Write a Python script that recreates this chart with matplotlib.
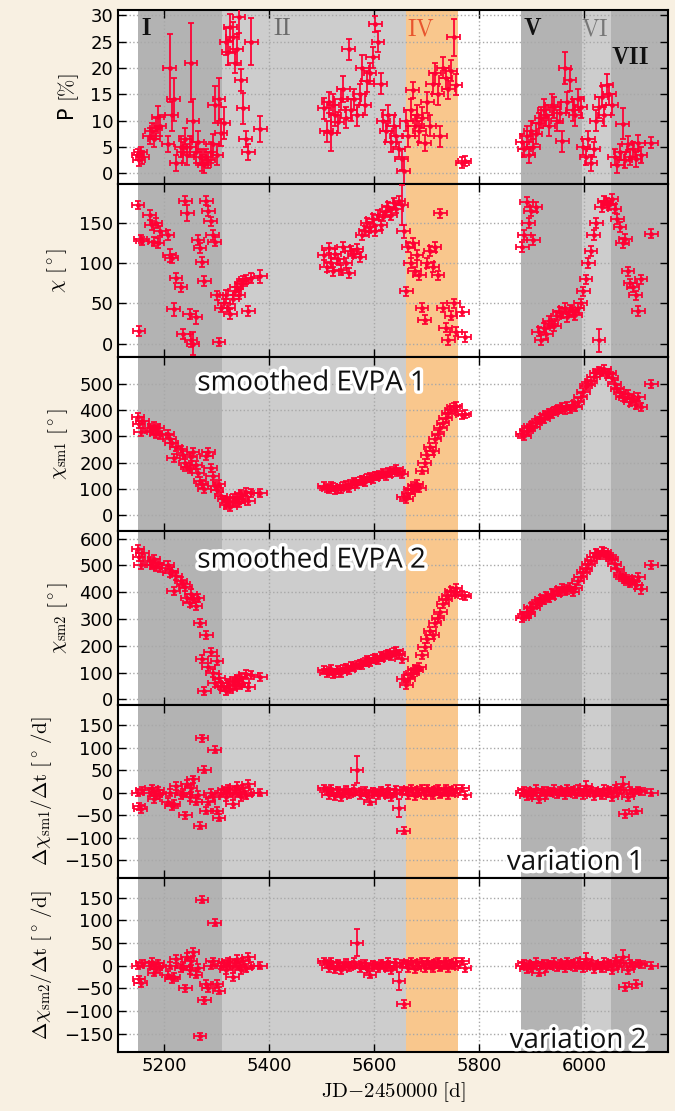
import numpy as np
import matplotlib.pyplot as plt
import matplotlib.patheffects as pe

plt.rcParams['mathtext.fontset'] = 'cm'
plt.rcParams['font.family'] = ['DejaVu Sans']

# observation epochs, JD - 2450000
jd = [5150, 5152, 5155, 5158, 5172, 5176, 5180, 5184, 5188, 5192, 5207, 5210,
      5214, 5218, 5222, 5232, 5236, 5240, 5244, 5248, 5251, 5255, 5260, 5264,
      5268, 5272, 5276, 5280, 5284, 5288, 5292, 5296, 5300, 5304, 5308,
      5314, 5318, 5322, 5326, 5330, 5334, 5338, 5342, 5346, 5350, 5355, 5360, 5366, 5383,
      5505, 5509, 5513, 5517, 5521, 5525, 5530, 5536, 5541, 5546, 5551, 5556,
      5562, 5567, 5572, 5577, 5582, 5587, 5592, 5597, 5602, 5607, 5612, 5617,
      5622, 5627, 5632, 5637, 5642, 5647, 5652, 5656,
      5661, 5665, 5669, 5673, 5677, 5681, 5686, 5691, 5696, 5701, 5706, 5711,
      5716, 5721, 5726, 5731, 5736, 5741, 5746, 5751, 5756, 5768, 5772,
      5882, 5886, 5890, 5894, 5898, 5903, 5908, 5913,
      5918, 5923, 5928, 5933, 5938, 5943, 5948, 5953,
      5958, 5963, 5968, 5973, 5978, 5983, 5988, 5993,
      5998, 6003, 6008, 6013, 6018, 6023, 6028, 6033,
      6038, 6043, 6048, 6053, 6058, 6063, 6068, 6073,
      6078, 6083, 6088, 6093, 6098, 6103, 6108, 6128]
jd_err = 12

# polarization degree [%]
pol = [3.5, 2.5, 4.0, 3.0, 7.0, 8.0, 6.5, 8.5, 10.6, 9.0, 5.5, 20.0,
       11.0, 14.0, 2.0, 5.0, 4.0, 6.5, 3.5, 5.0, 21.0, 10.0, 4.0, 6.0,
       3.0, 2.0, 1.5, 3.0, 2.5, 4.0, 5.5, 13.0, 3.5, 14.0, 7.7,
       9.5, 25.0, 23.0, 27.7, 25.8, 21.0, 23.5, 29.7, 17.7, 12.3, 6.5, 4.0, 25.0, 8.4,
       12.3, 8.0, 13.5, 7.7, 13.0, 11.0, 9.7, 14.0, 16.0, 10.5, 23.5, 12.0,
       14.0, 11.0, 15.0, 20.0, 13.0, 17.5, 19.0, 22.0, 28.4, 25.0, 17.0, 10.0,
       8.0, 11.0, 6.0, 9.0, 7.0, 4.5, 2.6, 0.5,
       10.0, 7.0, 12.0, 15.8, 9.0, 11.0, 8.0, 10.5, 5.8, 13.5, 9.0, 17.0,
       19.0, 15.0, 7.0, 20.0, 18.0, 16.0, 19.5, 25.8, 16.8, 2.0, 2.3,
       6.0, 4.5, 7.0, 3.5, 8.0, 5.0, 7.5, 9.5,
       10.5, 12.0, 11.0, 9.0, 13.0, 12.5, 10.0, 11.5,
       6.1, 20.0, 13.5, 17.7, 12.0, 11.0, 14.0, 12.5,
       5.0, 3.0, 6.5, 2.0, 4.5, 10.0, 12.5, 14.5,
       11.0, 16.8, 15.0, 13.0, 3.0, 1.5, 4.0, 9.4,
       2.5, 5.5, 3.0, 4.5, 2.6, 5.8, 3.5, 5.8]
pol_err = [1.0, 1.2, 1.0, 1.2, 1.5, 1.5, 1.5, 2.0, 2.2, 2.0, 1.5, 6.5,
           3.0, 4.0, 1.5, 2.0, 2.0, 2.0, 2.0, 2.0, 7.5, 4.0, 2.0, 2.0,
           1.5, 1.5, 1.5, 1.5, 1.5, 2.0, 2.0, 3.5, 2.0, 4.0, 2.5,
           3.0, 2.5, 2.5, 2.5, 3.0, 2.0, 3.0, 3.0, 2.0, 3.0, 1.5, 1.5, 4.5, 2.5,
           2.0, 2.0, 2.0, 3.5, 2.0, 2.0, 2.0, 2.0, 2.5, 2.0, 2.0, 2.0,
           2.0, 2.0, 2.0, 2.5, 2.0, 2.0, 2.0, 2.0, 1.5, 2.0, 2.0, 2.0,
           2.0, 2.0, 2.0, 2.0, 2.0, 1.5, 2.0, 2.5,
           2.0, 2.0, 2.0, 1.5, 2.0, 2.0, 2.0, 2.0, 1.5, 2.0, 2.0, 2.0,
           2.0, 2.0, 2.0, 2.0, 2.0, 2.0, 2.0, 3.5, 2.0, 1.0, 1.0,
           1.5, 1.5, 2.0, 1.5, 2.0, 1.5, 2.0, 2.0,
           2.0, 2.0, 2.0, 2.0, 2.0, 2.0, 2.0, 2.0,
           2.0, 3.0, 2.0, 2.0, 2.0, 2.0, 2.0, 2.0,
           1.5, 1.5, 1.5, 1.5, 1.5, 2.0, 2.0, 2.0,
           2.0, 2.0, 2.0, 2.0, 1.5, 1.5, 1.5, 3.0,
           1.5, 1.5, 1.5, 1.5, 1.5, 1.5, 1.5, 1.0]

# EVPA [deg]
chi = [172, 16, 130, 128, 160, 147, 127, 150, 125, 140, 135, 110,
       106, 43, 82, 70, 12, 178, 162, 37, 4, 0, 33, 129,
       119, 102, 78, 178, 165, 152, 135, 127, 60, 2, 45,
       50, 61, 45, 37, 55, 65, 70, 61, 74, 78, 80, 41, 82, 84,
       110, 95, 119, 100, 90, 112, 105, 92, 120, 100, 88, 115,
       112, 118, 108, 135, 140, 150, 145, 155, 140, 160, 148, 158,
       165, 170, 160, 175, 168, 178, 172, 140,
       65, 120, 100, 125, 90, 110, 85, 45, 30, 100, 115, 95,
       120, 85, 162, 45, 20, 5, 35, 50, 15, 40, 8,
       120, 135, 176, 150, 165, 129, 170, 15,
       5, 20, 12, 28, 25, 22, 35, 40,
       38, 45, 33, 42, 40, 36, 44, 50,
       65, 80, 100, 115, 135, 150, 4, 170,
       178, 175, 172, 180, 168, 155, 145, 125,
       130, 90, 75, 70, 60, 41, 80, 137]
chi_err = [5, 6, 5, 5, 6, 6, 6, 6, 6, 6, 6, 8,
           6, 8, 6, 6, 6, 6, 10, 6, 8, 14, 8, 6,
           6, 6, 6, 6, 6, 6, 6, 6, 6, 5, 6,
           6, 6, 6, 6, 6, 6, 6, 6, 6, 6, 6, 6, 6, 8,
           6, 6, 6, 6, 6, 6, 6, 6, 6, 6, 6, 6,
           6, 6, 6, 6, 6, 6, 6, 6, 6, 6, 6, 6,
           6, 6, 6, 6, 6, 6, 25, 8,
           6, 6, 6, 6, 6, 6, 6, 6, 6, 6, 6, 6,
           6, 6, 6, 6, 6, 6, 6, 6, 6, 6, 6,
           6, 6, 6, 6, 6, 6, 6, 6,
           6, 6, 6, 6, 6, 6, 6, 6,
           6, 6, 6, 6, 6, 6, 6, 6,
           6, 6, 6, 6, 6, 6, 14, 6,
           6, 6, 6, 6, 6, 6, 6, 6,
           6, 6, 6, 6, 6, 6, 6, 6]

# smoothed EVPA, two ambiguity solutions [deg]
chi_sm1 = [375, 345, 315, 360, 330, 320, 340, 310, 330, 305, 310, 290,
           275, 218, 260, 250, 230, 200, 185, 175, 220, 240, 190, 160,
           130, 120, 100, 225, 240, 180, 150, 110, 95, 120, 75,
           60, 40, 55, 30, 65, 50, 70, 45, 80, 60, 90, 55, 85, 85,
           110, 105, 100, 112, 108, 95, 100, 98, 110, 115, 105, 120,
           125, 118, 130, 135, 128, 140, 145, 138, 150, 148, 155, 160,
           150, 165, 160, 170, 175, 165, 155, 70,
           60, 80, 100, 95, 110, 120, 105, 170, 200, 230, 260, 245,
           290, 310, 330, 350, 370, 390, 400, 410, 415, 380, 385,
           310, 300, 320, 330, 340, 335, 350, 360,
           370, 365, 380, 390, 385, 395, 400, 405,
           410, 400, 415, 405, 420, 410, 430, 450,
           470, 490, 500, 510, 525, 540, 550, 545,
           555, 535, 540, 520, 500, 480, 470, 450,
           445, 460, 430, 440, 420, 450, 410, 500]
chi_sm2 = [560, 530, 500, 545, 515, 500, 525, 495, 510, 490, 500, 470,
           480, 405, 460, 440, 430, 420, 380, 360, 395, 375, 350, 380,
           284, 150, 30, 241, 120, 175, 100, 60, 145, 80, 50,
           45, 30, 60, 40, 70, 50, 75, 55, 85, 60, 95, 45, 90, 85,
           110, 100, 105, 115, 95, 100, 108, 100, 112, 118, 108, 125,
           120, 128, 132, 130, 138, 145, 140, 150, 155, 148, 160, 158,
           165, 170, 162, 175, 180, 168, 150, 75,
           55, 75, 95, 100, 115, 110, 120, 165, 195, 225, 255, 240,
           285, 305, 325, 355, 375, 385, 405, 400, 415, 390, 385,
           305, 310, 325, 320, 345, 340, 355, 365,
           375, 370, 385, 380, 395, 390, 405, 400,
           415, 405, 410, 420, 400, 415, 440, 455,
           475, 485, 505, 515, 530, 545, 540, 555,
           550, 540, 530, 525, 505, 485, 465, 455,
           450, 440, 435, 445, 425, 455, 410, 500]
chi_sm_err = 15

# rate of EVPA change [deg/d]
dchi1 = [0, -30, -36, 5, 0, 10, -15, -5, 5, -2, -20, 0,
         -30, -25, 15, -5, 0, -50, 20, -10, 10, 30, -20, -5,
         -73, 121, 51, -40, -20, 0, -10, 95, -40, -55, 0,
         5, -10, 10, 0, -25, 5, 15, 0, -10, 10, -5, 20, 0, 0,
         10, 5, -5, 8, 0, -8, 5, -10, 0, 6, -3, 0,
         8, 51, -5, 0, 5, -8, -20, 3, 0, -6, 5, 0,
         -4, 8, -10, 0, 6, -33, 5, -84,
         5, -5, 10, 0, -8, 5, 0, 8, -5, 10, 0, -6,
         5, 8, -3, 0, 10, -5, 5, 0, 8, 10, -5,
         0, 5, -8, 3, -5, 0, 8, -15,
         0, 5, -5, 3, 0, 8, -3, 5,
         0, -5, 10, 0, 5, -3, 8, 0,
         -5, 15, 0, 5, -8, 3, 0, -5,
         8, 0, 5, -10, 10, 0, 5, 20,
         -47, -10, 5, 0, -40, 5, 3, 0]
dchi2 = [0, -30, -38, 5, 0, 8, -15, -5, 5, -2, -20, 0,
         -30, -25, 15, -5, 0, -50, 20, -10, 10, 30, -20, -5,
         -155, 145, -76, -40, -50, 0, 10, 95, -40, -55, 0,
         5, -10, 10, 0, -25, 5, 15, 0, -10, 10, -5, 20, 0, 0,
         10, 5, -5, 8, 0, -8, 5, -10, 0, 6, -3, 0,
         8, 51, -5, 0, 5, -8, -20, 3, 0, -6, 5, 0,
         -4, 8, -10, 0, 6, -33, 5, -84,
         5, -5, 10, 0, -8, 5, 0, 8, -5, 10, 0, -6,
         5, 8, -3, 0, 10, -5, 5, 0, 8, 10, -5,
         0, 5, -8, 3, -5, 0, 8, -15,
         0, 5, -5, 3, 0, 8, -3, 5,
         0, -5, 10, 0, 5, -3, 8, 0,
         -5, 15, 0, 5, -8, 3, 0, -5,
         8, 0, 5, -10, 10, 0, 5, 20,
         -47, -10, 5, 0, -40, 5, 3, 0]
dchi_err = [8] * 35 + [8] * 14 + \
    [8, 8, 8, 8, 8, 8, 8, 8, 8, 8, 8, 8,
     8, 30, 8, 8, 8, 8, 8, 8, 8, 8, 8, 8,
     8, 8, 8, 8, 8, 20, 8, 8] + [8] * 23 + \
    [8] * 25 + [12] + [8] * 13 + [15] + [8] * 8

# activity periods: start, end, shade
periods = [(5150, 5310, '#b3b3b3'), (5310, 5660, '#cdcdcd'),
           (5660, 5760, '#f9c78d'), (5880, 5995, '#b3b3b3'),
           (5995, 6050, '#cdcdcd'), (6050, 6165, '#b3b3b3')]
period_names = ['I', 'II', 'IV', 'V', 'VI', 'VII']
period_x = [5166, 5424, 5688, 5902, 6021, 6088]
period_y = [27.5, 27.5, 27.5, 27.5, 27.5, 22.0]

red = '#ff0033'

fig, axes = plt.subplots(6, 1, sharex=True, figsize=(6.75, 11.11), dpi=100)
fig.patch.set_facecolor('#f8f0e2')
fig.subplots_adjust(left=0.175, right=0.99, top=0.991, bottom=0.053, hspace=0)

panels = [(pol, pol_err, (-2, 31), [0, 5, 10, 15, 20, 25, 30], r'P $[\%]$'),
          (chi, chi_err, (-17, 199), [0, 50, 100, 150], r'$\chi\ [^\circ]$'),
          (chi_sm1, chi_sm_err, (-60, 600), [0, 100, 200, 300, 400, 500],
           r'$\chi_{\rm sm1}\ [^\circ]$'),
          (chi_sm2, chi_sm_err, (-20, 628), [0, 100, 200, 300, 400, 500, 600],
           r'$\chi_{\rm sm2}\ [^\circ]$'),
          (dchi1, dchi_err, (-190, 195), [-150, -100, -50, 0, 50, 100, 150],
           r'$\Delta\chi_{\rm sm1}/\Delta{\rm t}\ [^\circ\,/{\rm d}]$'),
          (dchi2, dchi_err, (-190, 192), [-150, -100, -50, 0, 50, 100, 150],
           r'$\Delta\chi_{\rm sm2}/\Delta{\rm t}\ [^\circ\,/{\rm d}]$')]

for ax, (vals, err, ylim, yticks, ylabel) in zip(axes, panels):
    for x0, x1, c in periods:
        ax.axvspan(x0, x1, color=c, lw=0, zorder=0)
    ax.errorbar(jd, vals, xerr=jd_err, yerr=err, fmt='o', ms=2.5, color=red,
                ecolor=red, elinewidth=1.4, capsize=2.5, capthick=1.4, alpha=0.9,
                zorder=3)
    ax.set_ylim(*ylim)
    ax.set_yticks(yticks)
    ax.set_ylabel(ylabel, fontsize=15, labelpad=7)
    ax.set_axisbelow('line')
    ax.grid(True, ls=':', color='#a8a8a8', lw=1)
    ax.tick_params(direction='in', top=True, right=True, length=6, width=1,
                   labelsize=13)
    for s in ax.spines.values():
        s.set_linewidth(1.5)

axes[0].set_xlim(5112, 6160)
axes[-1].set_xticks([5200, 5400, 5600, 5800, 6000])
axes[-1].set_xlabel(r'${\rm JD}{-}2450000\ [{\rm d}]$', fontsize=15)

styles = {'I': ('#111111', 'bf'), 'II': ('#6a6a6a', 'rm'), 'IV': ('#e8552e', 'rm'),
          'V': ('#111111', 'bf'), 'VI': ('#777777', 'rm'), 'VII': ('#111111', 'bf')}
for name, x, y in zip(period_names, period_x, period_y):
    c, f = styles[name]
    axes[0].text(x, y, r'$\math%s{%s}$' % (f, name), color=c, fontsize=17,
                 ha='center', va='center', zorder=4)

outline = [pe.withStroke(linewidth=5, foreground='white')]
for ax, txt, x, y, ha in [(axes[2], 'smoothed EVPA 1', 0.144, 0.85, 'left'),
                          (axes[3], 'smoothed EVPA 2', 0.144, 0.83, 'left'),
                          (axes[4], 'variation 1', 0.955, 0.09, 'right'),
                          (axes[5], 'variation 2', 0.96, 0.065, 'right')]:
    ax.text(x, y, txt, transform=ax.transAxes, fontsize=20, family='Open Sans',
            ha=ha, va='center', color='#111111', path_effects=outline, zorder=5)

fig.savefig('out.png', dpi=100, facecolor=fig.get_facecolor())
